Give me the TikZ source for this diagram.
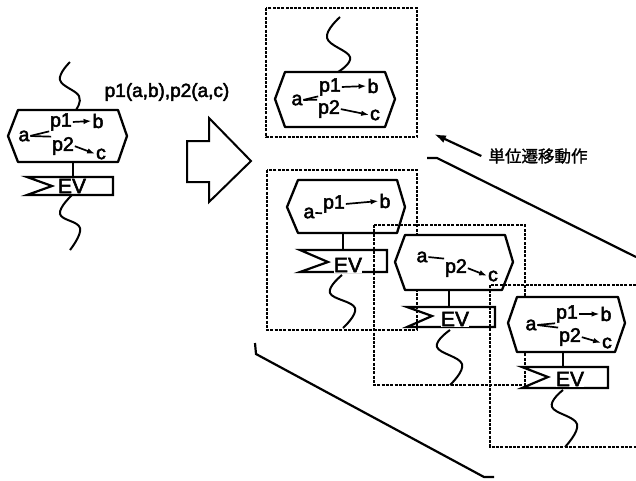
\documentclass[tikz,border=0pt]{standalone}
\usepackage{fontspec}
\setmainfont{Liberation Sans}[FakeBold=2.5]
\newfontfamily\cjk{Noto Sans CJK JP}[FakeBold=1.4]
\usetikzlibrary{arrows.meta}
\begin{document}
\begin{tikzpicture}[x=1pt,y=-1pt,
  solid line/.style={line width=2.2pt, line join=miter},
  boxline/.style={line width=2.2pt, dash pattern=on 3pt off 1.3pt},
  hexa/.style={line width=2.3pt, fill=white, line join=round},
  evbox/.style={line width=2.2pt, line join=miter},
  wave/.style={line width=2pt},
  lbl/.style={inner sep=0.3pt, font=\fontsize{19.5}{19.5}\selectfont},
  evlbl/.style={inner sep=0.3pt, font=\fontsize{21}{21}\selectfont},
  conn/.style={line width=1.7pt, shorten <=0.5pt, shorten >=0.5pt},
  carrow/.style={conn, -{Latex[length=8pt,width=5.5pt]}}]
\useasboundingbox (0,0) rectangle (636,480);

% ---------- left original ----------
\draw[wave] plot[smooth, tension=0.7] coordinates {(70,62) (60,80) (79,96) (76,110)};
\draw[hexa] (18,110)--(118,110)--(127,136)--(118,162)--(18,162)--(8,136)--cycle;
\node[lbl] (La) at (24,136) {a};
\node[lbl] (Lp1) at (61,122) {p1};
\node[lbl] (Lb) at (98,121) {b};
\node[lbl] (Lp2) at (63,146) {p2};
\node[lbl] (Lc) at (101,154) {c};
\draw[conn] (La.east) -- (Lp1.south west);
\draw[conn] (La.east) -- (Lp2.north west);
\draw[carrow] (Lp1.east) -- (Lb.west);
\draw[carrow] (Lp2.east) -- (Lc.west);
\draw[solid line] (73,162) -- (73,177);
\draw[evbox] (27,177)--(113,177)--(113,195)--(27,195)--(52,186)--cycle;
\node[evlbl] (LEV) at (72,186) {EV};
\draw[wave] plot[smooth, tension=0.7] coordinates {(72,195) (60,214) (80,228) (70,250)};

\node[inner sep=0pt, font=\fontsize{19}{19}\selectfont] (form) at (167,92) {p1(a,b),p2(a,c)};

% big hollow arrow
\draw[line width=2pt, line join=miter] (187,141)--(209,141)--(209,118)--(251,161)--(209,202)--(209,182)--(187,182)--cycle;

% ---------- box 1 (top) ----------
\draw[boxline] (266,8) rectangle (417,137);
\draw[wave] plot[smooth, tension=0.7] coordinates {(340,17) (327,38) (350,57) (338,72)};
\draw[hexa] (285,72)--(385,72)--(395,99)--(385,127)--(285,127)--(275,99)--cycle;
\node[lbl] (Ta) at (297,100) {a};
\node[lbl] (Tp1) at (330,87) {p1};
\node[lbl] (Tb) at (373,86) {b};
\node[lbl] (Tp2) at (329,109) {p2};
\node[lbl] (Tc) at (375,115) {c};
\draw[conn] (Ta.east) -- (Tp1.south west);
\draw[conn] (Ta.east) -- (Tp2.north west);
\draw[carrow] (Tp1.east) -- (Tb.west);
\draw[carrow] (Tp2.east) -- (Tc.west);

% ---------- box 2 ----------
\draw[boxline] (267,170) rectangle (417,330);
\draw[hexa] (298,180)--(397,180)--(405,207)--(397,233)--(298,233)--(287,207)--cycle;
\node[lbl] (Sa) at (309,213) {a};
\node[lbl] (Sp1) at (334,204) {p1};
\node[lbl] (Sb) at (385,201) {b};
\draw[conn] (Sa.east) -- (Sp1.south west);
\draw[carrow] (Sp1.east) -- (Sb.west);
\draw[solid line] (343,233) -- (343,250);
\draw[evbox] (300,250)--(387,250)--(387,272)--(300,272)--(328,262)--cycle;
\node[evlbl, fill=white] (SEV) at (348,265) {EV};
\draw[wave] plot[smooth, tension=0.7] coordinates {(342,275) (330,293) (355,308) (343,328)};

% ---------- box 3 ----------
\draw[boxline] (374,225) rectangle (525,385);
\draw[hexa] (405,235)--(505,235)--(513,262)--(502,290)--(405,290)--(395,262)--cycle;
\node[lbl] (Ra) at (422,257) {a};
\node[lbl] (Rp2) at (456,268) {p2};
\node[lbl] (Rc) at (493,276) {c};
\draw[conn] (Ra.east) -- (Rp2.north west);
\draw[carrow] (Rp2.east) -- (Rc.west);
\draw[solid line] (449,290) -- (449,307);
\draw[evbox] (407,307)--(495,307)--(495,327)--(407,327)--(432,316)--cycle;
\node[evlbl, fill=white] (REV) at (455,319) {EV};
\draw[wave] plot[smooth, tension=0.7] coordinates {(450,330) (437,347) (462,364) (450,385)};

% ---------- box 4 ----------
\draw[boxline] (636,285) -- (490,285) -- (490,447) -- (636,447);
\draw[hexa] (517,297)--(618,297)--(625,323)--(615,352)--(517,352)--(508,323)--cycle;
\node[lbl] (Qa) at (531,325) {a};
\node[lbl] (Qp1) at (567,314) {p1};
\node[lbl] (Qb) at (606,314) {b};
\node[lbl] (Qp2) at (570,337) {p2};
\node[lbl] (Qc) at (607,343) {c};
\draw[conn] (Qa.east) -- (Qp1.south west);
\draw[conn] (Qa.east) -- (Qp2.north west);
\draw[carrow] (Qp1.east) -- (Qb.west);
\draw[carrow] (Qp2.east) -- (Qc.west);
\draw[solid line] (563,352) -- (563,367);
\draw[evbox] (522,367)--(608,367)--(608,388)--(522,388)--(548,377)--cycle;
\node[evlbl, fill=white] (QEV) at (570,379) {EV};
\draw[wave] plot[smooth, tension=0.7] coordinates {(563,390) (552,407) (577,424) (565,447)};

% ---------- perspective lines and label ----------
\coordinate (u1) at (427,158);
\coordinate (u2) at (437,158);
\coordinate (u3) at (636,257);
\draw[solid line] (u1) -- (u2) -- (u3);
\coordinate (d1) at (255,343);
\coordinate (d2) at (256,354);
\coordinate (d3) at (484,477);
\coordinate (d4) at (494,477);
\draw[solid line] (d1) -- (d2) -- (d3) -- (d4);

\node[inner sep=1pt, font=\cjk\fontsize{16.5}{16.5}\selectfont] (lab) at (538,156) {単位遷移動作};
\coordinate (tip) at (434,134);
\draw[line width=2.2pt, -{Latex[length=12pt,width=8pt]}] (lab.west) ++(-6pt,0) -- (tip);
\end{tikzpicture}
\end{document}
